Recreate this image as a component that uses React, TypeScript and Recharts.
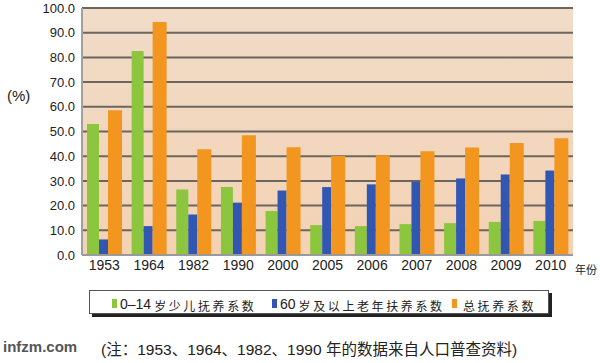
import React from "react";
import { BarChart, Bar, XAxis, YAxis, CartesianGrid } from "recharts";

const years = ["1953", "1964", "1982", "1990", "2000", "2005", "2006", "2007", "2008", "2009", "2010"];
const childRatio = [53.0, 82.6, 26.5, 27.5, 17.8, 12.1, 11.7, 12.5, 12.9, 13.4, 13.8];
const elderRatio = [6.3, 11.7, 16.4, 21.2, 26.1, 27.5, 28.6, 29.6, 31.0, 32.6, 34.2];
const totalRatio = [58.6, 94.3, 42.8, 48.5, 43.6, 40.1, 40.4, 42.0, 43.5, 45.3, 47.3];
const yTicks = [0, 10, 20, 30, 40, 50, 60, 70, 80, 90, 100];

const seriesNames = ["0–14岁少儿抚养系数", "60岁及以上老年扶养系数", "总抚养系数"];
const colors = { child: "#8cc63e", elder: "#3157b3", total: "#f2961f" };

const data = years.map((year, i) => ({
  year,
  child: childRatio[i],
  elder: elderRatio[i],
  total: totalRatio[i],
}));

const numFont = "'Liberation Sans', Arial, sans-serif";
const cjkFont = "'Liberation Sans', 'Noto Sans CJK SC', sans-serif";

const LegendItem = ({ color, num, cjk, left }: { color: string; num: string; cjk: string; left: number }) => (
  <div style={{ position: "absolute", left, top: 0, height: 25, display: "flex", alignItems: "center", whiteSpace: "nowrap" }}>
    <span style={{ display: "inline-block", width: 5, height: 9, background: color, marginRight: 3 }} />
    {num && <span style={{ fontFamily: numFont, fontSize: 14, color: "#222" }}>{num}</span>}
    <span style={{ fontFamily: cjkFont, fontSize: 12, letterSpacing: 2.6, color: "#222", marginLeft: 3, marginTop: 3 }}>{cjk}</span>
  </div>
);

export default function App() {
  return (
    <div style={{ position: "absolute", left: 0, top: 0, width: 600, height: 363, background: "#fff", overflow: "hidden" }}>
      <BarChart
        width={600}
        height={363}
        data={data}
        margin={{ top: 8, right: 27, left: 0, bottom: 78 }}
        barGap={0}
      >
        <defs>
          <linearGradient id="plotBg" x1="0" y1="0" x2="0" y2="1">
            <stop offset="0%" stopColor="#f0dcc8" />
            <stop offset="100%" stopColor="#f4d2b4" />
          </linearGradient>
        </defs>
        <CartesianGrid vertical={false} fill="url(#plotBg)" stroke="#6d665e" strokeWidth={2} />
        <XAxis
          dataKey="year"
          tickLine={false}
          axisLine={{ stroke: "#9a9a9a", strokeWidth: 2 }}
          tickSize={0}
          tickMargin={5}
          height={30}
          interval={0}
          tick={{ fontSize: 14, fill: "#222", fontFamily: numFont }}
        />
        <YAxis
          width={82}
          domain={[0, 100]}
          ticks={yTicks}
          tickFormatter={(v: number) => v.toFixed(1)}
          tickLine={false}
          axisLine={{ stroke: "#a0a0a0", strokeWidth: 2 }}
          tickSize={0}
          tickMargin={7}
          tick={{ fontSize: 13, fill: "#222", fontFamily: numFont }}
        />
        <Bar dataKey="child" name={seriesNames[0]} fill={colors.child} barSize={12} isAnimationActive={false} />
        <Bar dataKey="elder" name={seriesNames[1]} fill={colors.elder} barSize={9} isAnimationActive={false} />
        <Bar dataKey="total" name={seriesNames[2]} fill={colors.total} barSize={14} isAnimationActive={false} />
      </BarChart>

      <div style={{ position: "absolute", left: 7, top: 87, fontFamily: cjkFont, fontSize: 15, color: "#222" }}>(%)</div>
      <div style={{ position: "absolute", left: 575, top: 261, fontFamily: cjkFont, fontSize: 11, color: "#222" }}>年份</div>

      <div
        style={{
          position: "absolute",
          left: 89,
          top: 290,
          width: 458,
          height: 22,
          background: "#fff",
          border: "1px solid #555",
          boxShadow: "3px 3px 0 #222",
        }}
      >
        <LegendItem color={colors.child} num="0–14" cjk="岁少儿抚养系数" left={22} />
        <LegendItem color={colors.elder} num="60" cjk="岁及以上老年扶养系数" left={182} />
        <LegendItem color={colors.total} num="" cjk="总抚养系数" left={362} />
      </div>

      <div style={{ position: "absolute", left: 3, top: 338, fontFamily: numFont, fontSize: 15, fontWeight: "bold", color: "#555" }}>
        infzm.com
      </div>
      <div style={{ position: "absolute", left: 101, top: 337, fontFamily: cjkFont, fontSize: 15.5, color: "#222", whiteSpace: "nowrap" }}>
        (注：1953、1964、1982、1990 年的数据来自人口普查资料)
      </div>
    </div>
  );
}
